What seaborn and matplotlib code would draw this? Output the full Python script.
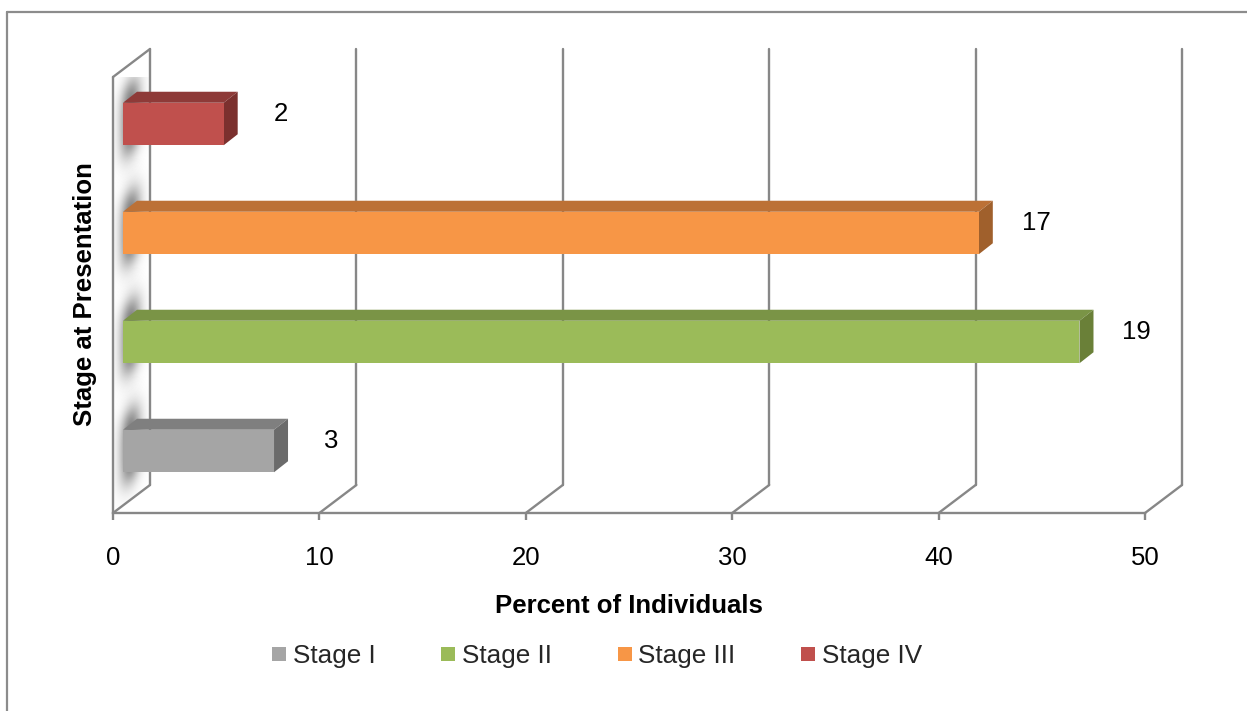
import numpy as np
import pandas as pd
import matplotlib
matplotlib.use("Agg")
import matplotlib.pyplot as plt
import seaborn as sns
from matplotlib.patches import Polygon
from matplotlib.lines import Line2D

# ---- data ----
stages = ["Stage I", "Stage II", "Stage III", "Stage IV"]
counts = [3, 19, 17, 2]
front_colors = ["#A5A5A5", "#9BBB59", "#F79646", "#C0504D"]
top_colors = ["#7F7F7F", "#7A9446", "#BC7136", "#8E3A38"]
side_colors = ["#6B6B6B", "#6A8038", "#A0602C", "#7B302E"]
xticks = [0, 10, 20, 30, 40, 50]
x_title = "Percent of Individuals"
y_title = "Stage at Presentation"

total = sum(counts)
pct = [c / total * 100 for c in counts]
df = pd.DataFrame({"stage": stages, "pct": pct, "count": counts})
order = stages[::-1]          # Stage IV on top

sns.set_theme(style="white")
plt.rcParams["font.family"] = ["Liberation Sans", "DejaVu Sans"]

W, H = 1247, 711
fig = plt.figure(figsize=(W / 100, H / 100), dpi=100)
fig.patch.set_facecolor("white")
ax = fig.add_axes([113 / W, 1 - 513 / H, 1032 / W, 436 / H])
ax.set_facecolor("none")

sns.barplot(data=df, x="pct", y="stage", hue="stage", order=order,
            hue_order=stages, palette=dict(zip(stages, front_colors)),
            saturation=1, width=0.39, dodge=False, legend=False,
            orient="h", linewidth=0, ax=ax)

XMAX = 50
ax.set_xlim(0, XMAX)
ax.set_ylim(len(order) - 0.5, -0.5)

# pixel offsets of the oblique projection, turned into data units
PX_X = 1032 / XMAX
PX_Y = 436 / len(order)


def off(dx_px, up_px):
    return dx_px / PX_X, -up_px / PX_Y


front = off(10, 7.5)    # bar front face behind the floor edge
depth = off(14, 11)     # bar thickness
wall = off(37, 28)      # back wall

grid_c = "#878787"
grid_lw = 1.7
ybot, ytop = len(order) - 0.5, -0.5

# side wall with the soft shadows cast by the bars
wall_poly = Polygon([(0, ybot), (0, ytop), (wall[0], ytop + wall[1]),
                     (wall[0], ybot + wall[1])], closed=True,
                    transform=ax.transData, facecolor="none", edgecolor="none")
ax.add_patch(wall_poly)
for i in range(len(order)):
    xs = np.linspace(0, wall[0], 80)
    ys = np.linspace(i - 0.75, i + 0.75, 220)
    X, Y = np.meshgrid(xs, ys)
    yc = i + front[1] + (X - front[0]) * (wall[1] / wall[0])
    vy = 1 / (1 + np.exp((np.abs(Y - yc) - 0.31) / 0.065))
    hx = np.exp(-0.5 * ((X - 0.85) / 0.36) ** 2)
    rgba = np.zeros(X.shape + (4,))
    rgba[..., :3] = 0.3
    rgba[..., 3] = 0.78 * hx * vy
    im = ax.imshow(rgba, extent=(0, wall[0], ys[0], ys[-1]), origin="lower",
                   aspect="auto", interpolation="bilinear", zorder=1)
    im.set_clip_path(wall_poly)

# grid: vertical lines on the back wall plus floor diagonals
for t in xticks:
    ax.plot([t + wall[0], t + wall[0]], [ybot + wall[1], ytop + wall[1]],
            color=grid_c, lw=grid_lw, clip_on=False, zorder=1.5)
    ax.plot([t, t + wall[0]], [ybot, ybot + wall[1]],
            color=grid_c, lw=grid_lw, clip_on=False, zorder=1.5)
# front edge and top of the side wall
ax.plot([0, 0], [ybot, ytop], color=grid_c, lw=grid_lw, clip_on=False, zorder=1.5)
ax.plot([0, wall[0]], [ytop, ytop + wall[1]], color=grid_c, lw=grid_lw,
        clip_on=False, zorder=1.5)

# extrude bars into boxes
for p in list(ax.patches):
    if not isinstance(p, matplotlib.patches.Rectangle) or p.get_width() <= 0:
        continue
    x0, y0, w, h = p.get_x(), p.get_y(), p.get_width(), p.get_height()
    k = int(round(y0 + h / 2))
    idx = stages.index(order[k])
    xa, yt = x0 + front[0], y0 + front[1]
    xb = xa + w
    p.set_x(xa)
    p.set_y(yt)
    p.set_zorder(3)
    p.set_clip_on(False)
    top = Polygon([(xa, yt), (xb, yt), (xb + depth[0], yt + depth[1]),
                   (xa + depth[0], yt + depth[1])], closed=True,
                  facecolor=top_colors[idx], edgecolor="none", zorder=2.9,
                  clip_on=False)
    side = Polygon([(xb, yt), (xb, yt + h), (xb + depth[0], yt + h + depth[1]),
                    (xb + depth[0], yt + depth[1])], closed=True,
                   facecolor=side_colors[idx], edgecolor="none", zorder=2.9,
                   clip_on=False)
    ax.add_patch(top)
    ax.add_patch(side)
    ax.text(pct[idx] + 3.25, k - 0.16, str(counts[idx]), ha="center",
            va="center", fontsize=18.5, color="black", zorder=4)

ax.set_xlim(0, XMAX)
ax.set_ylim(ybot, ytop)
ax.set_yticks([])
ax.set_ylabel("")
ax.set_xticks(xticks)
ax.set_xticklabels([str(t) for t in xticks])
ax.tick_params(axis="x", direction="out", length=5, width=grid_lw,
               color=grid_c, pad=19, labelsize=18.5, labelcolor="black",
               bottom=True)
for s in ["top", "right", "left"]:
    ax.spines[s].set_visible(False)
ax.spines["bottom"].set_color(grid_c)
ax.spines["bottom"].set_linewidth(grid_lw)
ax.spines["bottom"].set_zorder(1.5)

ax.set_xlabel(x_title, fontsize=18.5, fontweight="bold", color="black")
ax.xaxis.set_label_coords(0.5, (513 - 594) / 436)
fig.text(85 / W, 1 - 294 / H, y_title, rotation=90, ha="center", va="center",
         fontsize=18.5, fontweight="bold", color="black")

handles = [Line2D([], [], marker="s", ls="", markersize=9.5,
                  markerfacecolor=c, markeredgewidth=0) for c in front_colors]
fig.legend(handles, stages, loc="center", bbox_to_anchor=(597 / W, 1 - 656 / H),
           ncol=4, frameon=False, fontsize=18.8, handlelength=0.55,
           handletextpad=0.25, columnspacing=2.5, borderpad=0)

# chart frame
fr_c = "#8C8C8C"
fig.add_artist(Line2D([7 / W, 7 / W], [0, 1 - 12 / H], transform=fig.transFigure,
                      color=fr_c, lw=1.6))
fig.add_artist(Line2D([7 / W, 1], [1 - 12 / H, 1 - 12 / H],
                      transform=fig.transFigure, color=fr_c, lw=1.6))

fig.savefig("out.png", dpi=100, facecolor="white")
